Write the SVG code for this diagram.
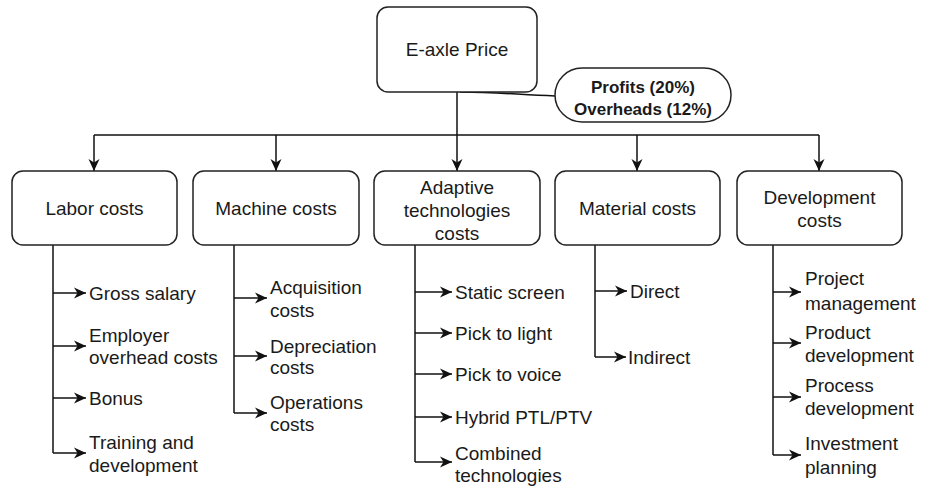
<svg xmlns="http://www.w3.org/2000/svg" width="929" height="487" viewBox="0 0 929 487">
<style>
.box{fill:#fff;stroke:#222;stroke-width:1.5}
.t{font-family:"Liberation Sans",Arial,sans-serif;font-size:19px;fill:#1a1a1a}
.c{text-anchor:middle}
.p{font-family:"Liberation Sans",Arial,sans-serif;font-size:17px;font-weight:bold;fill:#1a1a1a;text-anchor:middle}
.ln{fill:none;stroke:#111;stroke-width:1.5}
</style>
<defs>
<marker id="ah" markerUnits="userSpaceOnUse" markerWidth="12" markerHeight="12" refX="12" refY="6" orient="auto">
<path d="M0,0.5 L12,6 L0,11.5 L3.5,6 Z" fill="#111"/>
</marker>
</defs>
<rect width="929" height="487" fill="#fff"/>
<g id="connectors">
<path class="ln" d="M460,92 C500,92 520,95 555,96"/>
<path class="ln" d="M457,92 V135"/>
<path class="ln" d="M94,135 H819"/>
<path class="ln" d="M94,135 V171" marker-end="url(#ah)"/>
<path class="ln" d="M276,135 V171" marker-end="url(#ah)"/>
<path class="ln" d="M457,135 V171" marker-end="url(#ah)"/>
<path class="ln" d="M637,135 V171" marker-end="url(#ah)"/>
<path class="ln" d="M819,135 V171" marker-end="url(#ah)"/>
<path class="ln" d="M53,245 V453"/>
<path class="ln" d="M53,293 H86" marker-end="url(#ah)"/>
<path class="ln" d="M53,346 H86" marker-end="url(#ah)"/>
<path class="ln" d="M53,398 H86" marker-end="url(#ah)"/>
<path class="ln" d="M53,453 H86" marker-end="url(#ah)"/>
<path class="ln" d="M234,245 V413"/>
<path class="ln" d="M234,298 H267" marker-end="url(#ah)"/>
<path class="ln" d="M234,356 H267" marker-end="url(#ah)"/>
<path class="ln" d="M234,413 H267" marker-end="url(#ah)"/>
<path class="ln" d="M415,245 V462"/>
<path class="ln" d="M415,292 H452" marker-end="url(#ah)"/>
<path class="ln" d="M415,333 H452" marker-end="url(#ah)"/>
<path class="ln" d="M415,374 H452" marker-end="url(#ah)"/>
<path class="ln" d="M415,417 H452" marker-end="url(#ah)"/>
<path class="ln" d="M415,462 H452" marker-end="url(#ah)"/>
<path class="ln" d="M595,245 V357"/>
<path class="ln" d="M595,291 H627" marker-end="url(#ah)"/>
<path class="ln" d="M595,357 H626" marker-end="url(#ah)"/>
<path class="ln" d="M773,245 V455"/>
<path class="ln" d="M773,292 H801" marker-end="url(#ah)"/>
<path class="ln" d="M773,343 H801" marker-end="url(#ah)"/>
<path class="ln" d="M773,397 H801" marker-end="url(#ah)"/>
<path class="ln" d="M773,455 H801" marker-end="url(#ah)"/>
</g>
<g id="root">
<rect class="box" x="377" y="7" width="160" height="85" rx="11"/>
<text class="t c" x="457" y="56">E-axle Price</text>
</g>
<g id="profits">
<rect class="box" x="555" y="68" width="176" height="54" rx="27"/>
<text class="p" x="643" y="93">Profits (20%)</text>
<text class="p" x="643" y="115">Overheads (12%)</text>
</g>
<g id="labor">
<rect class="box" x="12" y="171" width="165" height="74" rx="11"/>
<text class="t c" x="94.5" y="215">Labor costs</text>
</g>
<g id="machine">
<rect class="box" x="193" y="171" width="166" height="74" rx="11"/>
<text class="t c" x="276" y="215">Machine costs</text>
</g>
<g id="adaptive">
<rect class="box" x="374" y="171" width="166" height="74" rx="11"/>
<text class="t c" x="457" y="194">Adaptive</text>
<text class="t c" x="457" y="217">technologies</text>
<text class="t c" x="457" y="240">costs</text>
</g>
<g id="material">
<rect class="box" x="555" y="171" width="165" height="74" rx="11"/>
<text class="t c" x="637.5" y="215">Material costs</text>
</g>
<g id="development">
<rect class="box" x="737" y="171" width="165" height="74" rx="11"/>
<text class="t c" x="819.5" y="204">Development</text>
<text class="t c" x="819.5" y="227">costs</text>
</g>
<g id="labor-items">
<text class="t" x="89" y="300">Gross salary</text>
<text class="t" x="89" y="342">Employer</text>
<text class="t" x="89" y="364">overhead costs</text>
<text class="t" x="89" y="405">Bonus</text>
<text class="t" x="89" y="449">Training and</text>
<text class="t" x="89" y="472">development</text>
</g>
<g id="machine-items">
<text class="t" x="270" y="294">Acquisition</text>
<text class="t" x="270" y="317">costs</text>
<text class="t" x="270" y="353">Depreciation</text>
<text class="t" x="270" y="374">costs</text>
<text class="t" x="270" y="409">Operations</text>
<text class="t" x="270" y="431">costs</text>
</g>
<g id="adaptive-items">
<text class="t" x="455" y="299">Static screen</text>
<text class="t" x="455" y="340">Pick to light</text>
<text class="t" x="455" y="381">Pick to voice</text>
<text class="t" x="455" y="424">Hybrid PTL/PTV</text>
<text class="t" x="455" y="460">Combined</text>
<text class="t" x="455" y="482">technologies</text>
</g>
<g id="material-items">
<text class="t" x="630" y="298">Direct</text>
<text class="t" x="628" y="364">Indirect</text>
</g>
<g id="development-items">
<text class="t" x="805" y="285">Project</text>
<text class="t" x="805" y="310">management</text>
<text class="t" x="805" y="339">Product</text>
<text class="t" x="805" y="362">development</text>
<text class="t" x="805" y="392">Process</text>
<text class="t" x="805" y="415">development</text>
<text class="t" x="805" y="450">Investment</text>
<text class="t" x="805" y="474">planning</text>
</g>
</svg>
